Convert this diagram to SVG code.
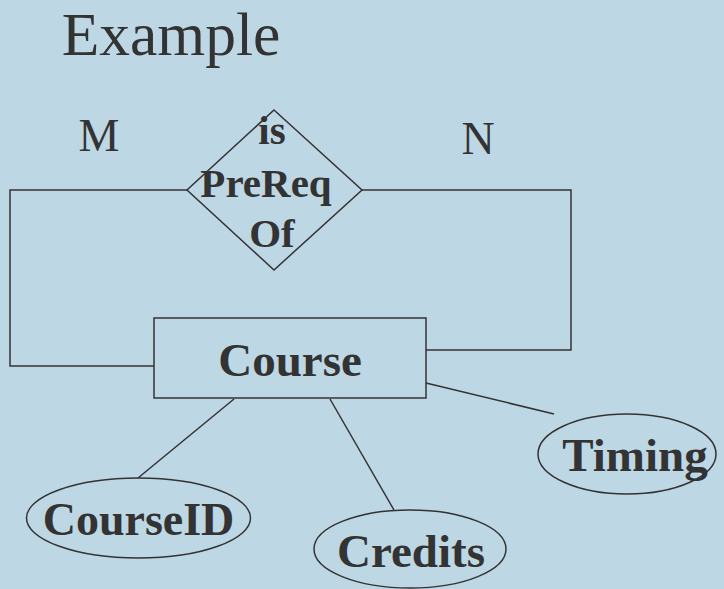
<svg xmlns="http://www.w3.org/2000/svg" width="724" height="589" viewBox="0 0 724 589">
<style>
.ln{fill:none;stroke:#333;stroke-width:1.5}
.sh{fill:none;stroke:#333;stroke-width:1.5}
text{font-family:'Liberation Serif','Times New Roman','DejaVu Serif',serif;fill:#333;text-anchor:middle}
.b{font-weight:bold}
</style>
<rect width="724" height="589" fill="#BED7E4"/>
<text x="171" y="55" font-size="61.5">Example</text>
<g id="connectors">
<polyline class="ln" points="187,190 10,190 10,366 154,366"/>
<polyline class="ln" points="362,190 571,190 571,350 426,350"/>
<line class="ln" x1="234" y1="399" x2="138" y2="478"/>
<line class="ln" x1="330" y1="399" x2="394" y2="510"/>
<line class="ln" x1="426" y1="383" x2="554" y2="414"/>
<text x="99" y="151" font-size="46">M</text>
<text x="478" y="154" font-size="46">N</text>
</g>
<g id="isPreReqOf">
<polygon class="sh" points="274,110 362,190 274,270 187,190"/>
<text class="b" x="272" y="144" font-size="41">is</text>
<text class="b" x="266" y="197" font-size="41">PreReq</text>
<text class="b" x="272" y="247" font-size="41">Of</text>
</g>
<g id="Course">
<rect class="sh" x="154" y="318" width="272" height="80"/>
<text class="b" x="290" y="376" font-size="47">Course</text>
</g>
<g id="CourseID">
<ellipse class="sh" cx="138.5" cy="518" rx="112" ry="40"/>
<text class="b" x="138.5" y="535" font-size="46">CourseID</text>
</g>
<g id="Credits">
<ellipse class="sh" cx="410" cy="549" rx="96" ry="39"/>
<text class="b" x="411" y="567" font-size="47">Credits</text>
</g>
<g id="Timing">
<ellipse class="sh" cx="627" cy="454" rx="89" ry="40"/>
<text class="b" x="635" y="471" font-size="47">Timing</text>
</g>
</svg>
